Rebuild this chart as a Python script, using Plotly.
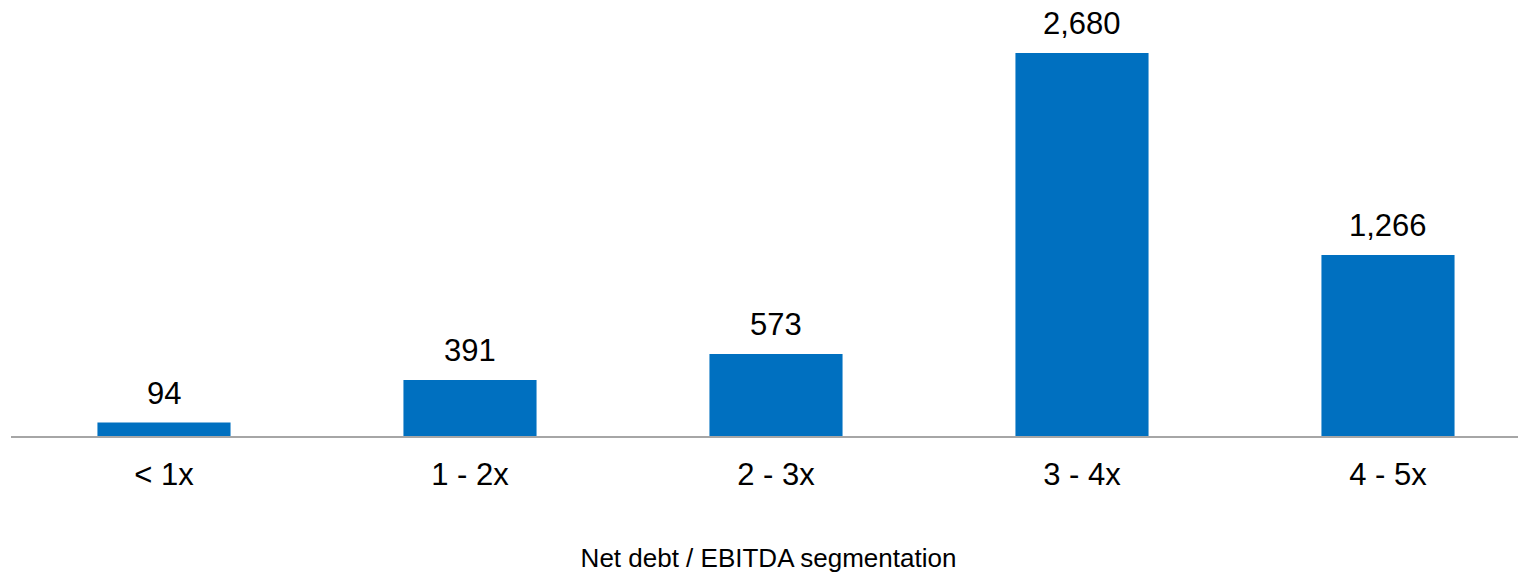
import plotly.graph_objects as go

categories = ["< 1x", "1 - 2x", "2 - 3x", "3 - 4x", "4 - 5x"]
values = [94, 391, 573, 2680, 1266]
labels = [f"{v:,}" for v in values]

FONT = "Liberation Sans, Arial, sans-serif"

fig = go.Figure(
    go.Bar(
        x=categories,
        y=values,
        marker=dict(color="#0070C0", line=dict(width=0)),
        width=0.435,
        hoverinfo="x+y",
    )
)

for c, v, t in zip(categories, values, labels):
    fig.add_annotation(
        x=c,
        y=v,
        text=t,
        showarrow=False,
        xanchor="center",
        yanchor="bottom",
        yshift=10,
        font=dict(family=FONT, size=31, color="#000000"),
    )

# page has an 8px body margin, so the figure is slightly smaller than the window
fig.update_layout(
    width=1518,
    height=566,
    margin=dict(l=3, r=0, t=2, b=138),
    paper_bgcolor="white",
    plot_bgcolor="white",
    showlegend=False,
    font=dict(family=FONT, color="#000000"),
)
fig.update_xaxes(
    range=[-0.5, 4.451],
    automargin=False,
    showline=True,
    linecolor="#A6A6A6",
    linewidth=1.5,
    showgrid=False,
    ticks="",
    tickfont=dict(size=31),
    ticklabelstandoff=10,
    title=dict(text="Net debt / EBITDA segmentation", font=dict(size=26), standoff=58),
)
fig.update_yaxes(
    range=[0, 2981],
    visible=False,
    showgrid=False,
    zeroline=False,
)

fig.write_html("out.html")
